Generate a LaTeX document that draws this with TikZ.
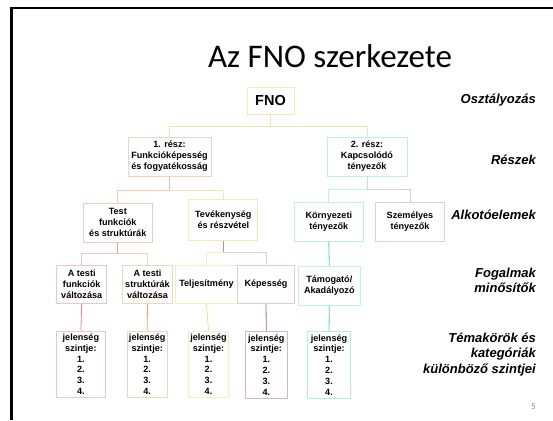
\documentclass[tikz,border=0pt]{standalone}
\usepackage{fontspec}
\setmainfont{Liberation Sans}
\newfontfamily\titlefont{Carlito}
\definecolor{bFNO}{HTML}{F1EAB2}
\definecolor{bPa}{HTML}{F6D2BE}
\definecolor{bPb}{HTML}{BFF1E0}
\definecolor{bTest}{HTML}{F6CCB8}
\definecolor{bTev}{HTML}{F8E8B8}
\definecolor{bKorny}{HTML}{BFF1E0}
\definecolor{bSzem}{HTML}{D4D0F3}
\definecolor{bAF}{HTML}{F4C4C4}
\definecolor{bAS}{HTML}{F6D4BC}
\definecolor{bTelj}{HTML}{F8EDC0}
\definecolor{bKep}{HTML}{E3CAE3}
\definecolor{bTam}{HTML}{BFF5E3}
\definecolor{bJa}{HTML}{F4C4C4}
\definecolor{bJb}{HTML}{F6D4BC}
\definecolor{bJc}{HTML}{F8EDC0}
\definecolor{bJd}{HTML}{D6B2E0}
\definecolor{bJe}{HTML}{B2EEDC}
\definecolor{cFNO}{HTML}{F1E6A8}
\definecolor{cPa}{HTML}{F0BCA2}
\definecolor{cPb}{HTML}{B4ECDA}
\definecolor{cTestV}{HTML}{E8A696}
\definecolor{cTevV}{HTML}{C79282}
\definecolor{cKorny}{HTML}{3EDCA4}
\definecolor{cJa}{HTML}{EC8080}
\definecolor{cJb}{HTML}{EEA06E}
\definecolor{cJc}{HTML}{F7DE78}
\definecolor{cJd}{HTML}{AE64BE}
\definecolor{cJe}{HTML}{3EDFA6}
\newcommand{\boxfnt}{\fontsize{9.1}{10.9}\selectfont\bfseries}
\newcommand{\lblfnt}{\fontsize{13}{15.5}\selectfont\bfseries\itshape}
\tikzset{
  box/.style={draw, line width=0.8pt, fill=white, align=center, inner sep=0pt, font=\boxfnt},
  lbl/.style={anchor=east, align=right, font=\lblfnt, inner sep=0pt},
  conn/.style={line width=0.8pt}
}
\begin{document}
\begin{tikzpicture}[x=1pt,y=-1pt]
\useasboundingbox (0,0) rectangle (553,420);
\draw[line width=2.7pt] (553,8) -- (11.3,8) -- (11.3,420);
\node[font=\titlefont\fontsize{33}{40}\selectfont, anchor=base, inner sep=0pt] (title) at (330,67) {Az FNO szerkezete};
% boxes
\node[box, draw=bFNO, minimum width=47pt, minimum height=27pt, font=\fontsize{14.5}{16}\selectfont\bfseries] (fno) at (270.5,100.5) {FNO};
\node[box, draw=bPa, minimum width=83pt, minimum height=39pt] (pa) at (169.5,156.5) {1. rész:\\Funkcióképesség\\és fogyatékosság};
\node[box, draw=bPb, minimum width=80pt, minimum height=39pt] (pb) at (367,156.5) {2. rész:\\Kapcsolódó\\tényezők};
\node[box, draw=bTest, minimum width=69pt, minimum height=39pt] (test) at (117.8,222.8) {Test\\funkciók\\és struktúrák};
\node[box, draw=bTev, minimum width=69pt, minimum height=41pt] (tev) at (223.3,219.8) {Tevékenység\\és részvétel};
\node[box, draw=bKorny, minimum width=69pt, minimum height=39pt] (korny) at (328.8,221.7) {Környezeti\\tényezők};
\node[box, draw=bSzem, minimum width=69.4pt, minimum height=39pt] (szem) at (410,221.7) {Személyes\\tényezők};
\node[box, draw=bAF, minimum width=50pt, minimum height=38.3pt] (afunk) at (81.7,284.2) {A testi\\funkciók\\változása};
\node[box, draw=bAS, minimum width=49.6pt, minimum height=38.3pt] (astr) at (147.5,284.2) {A testi\\struktúrák\\változása};
\node[box, draw=bTelj, minimum width=61.6pt, minimum height=38.3pt] (telj) at (206.5,284.2) {Teljesítmény};
\node[box, draw=bKep, minimum width=57.4pt, minimum height=38.3pt] (kep) at (266,284.2) {Képesség};
\node[box, draw=bTam, minimum width=62pt, minimum height=39pt] (tam) at (329.3,285.5) {Támogató/\\Akadályozó};
\node[box, draw=bJa, minimum width=49.7pt, minimum height=66.3pt] (jela) at (80.9,364.2) {jelenség\\szintje:\\1.\\2.\\3.\\4.};
\node[box, draw=bJb, minimum width=40.3pt, minimum height=66.3pt] (jelb) at (147.2,364.2) {jelenség\\szintje:\\1.\\2.\\3.\\4.};
\node[box, draw=bJc, minimum width=40.4pt, minimum height=66.3pt] (jelc) at (208.5,364.2) {jelenség\\szintje:\\1.\\2.\\3.\\4.};
\node[box, draw=bJd, minimum width=42pt, minimum height=66.3pt] (jeld) at (266.3,365) {jelenség\\szintje:\\1.\\2.\\3.\\4.};
\node[box, draw=bJe, minimum width=43.4pt, minimum height=66.3pt] (jele) at (329,365) {jelenség\\szintje:\\1.\\2.\\3.\\4.};
% connectors
\coordinate (kfno) at ([yshift=-12pt]fno.south);
\draw[conn, cFNO] (fno.south) -- (kfno);
\draw[conn, cFNO] (kfno) -| (pa.north);
\draw[conn, cFNO] (kfno) -| (pb.north);
\coordinate (kpa) at ([yshift=-14pt]pa.south);
\draw[conn, cPa] (pa.south) -- (kpa);
\draw[conn, bTest] (kpa) -| (test.north);
\draw[conn, bTev] (kpa) -| (tev.north);
\coordinate (kpb) at ([yshift=-13.3pt]pb.south);
\draw[conn, cPb] (pb.south) -- (kpb);
\draw[conn, bKorny] (kpb) -| (korny.north);
\draw[conn, bSzem] (kpb) -| (szem.north);
\coordinate (ktest) at ([yshift=-11pt]test.south);
\draw[conn, cTestV] (test.south) -- (ktest);
\draw[conn, bAF] (ktest) -| (afunk.north);
\draw[conn, bAS] (ktest) -| (astr.north);
\coordinate (ktev) at ([yshift=-12pt]tev.south);
\draw[conn, cTevV] (tev.south) -- (ktev);
\draw[conn, bTelj] (ktev) -| (telj.north);
\draw[conn, bKep] (ktev) -| (kep.north);
\draw[conn, cKorny] (korny.south) -- (tam.north);
\draw[conn, cJa] (afunk.south) -- (jela.north);
\draw[conn, cJb] (astr.south) -- (jelb.north);
\draw[conn, cJc] (telj.south) -- (jelc.north);
\draw[conn, cJd] (kep.south) -- (jeld.north);
\draw[conn, cJe] (tam.south) -- (jele.north);
% labels
\node[lbl] (l1) at (536,100) {Osztályozás};
\node[lbl] (l2) at (536,159.3) {Részek};
\node[lbl] (l3) at (536,215) {Alkotóelemek};
\node[lbl] (l4) at (536,280.5) {Fogalmak\\minősítők};
\node[lbl] (l5) at (536,354.5) {Témakörök és\\kategóriák\\különböző szintjei};
\node[font=\titlefont\fontsize{9}{10}\selectfont, text=black!45, inner sep=0pt] (pg) at (533.3,406.7) {5};
\end{tikzpicture}
\end{document}
